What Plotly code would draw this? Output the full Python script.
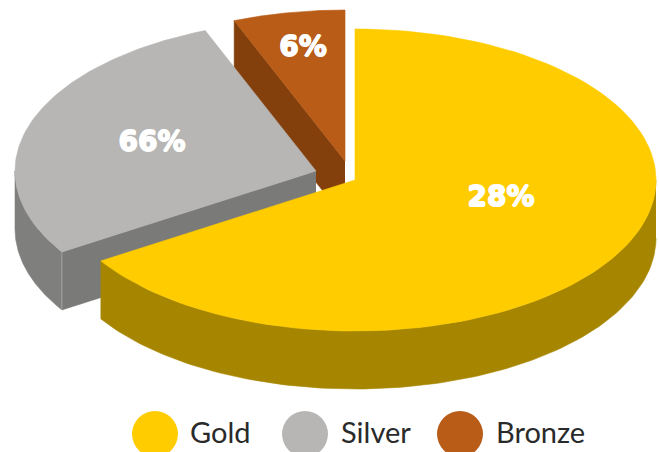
import numpy as np
import plotly.graph_objects as go

# Medal shares and the text printed on each wedge
medals = ["Gold", "Silver", "Bronze"]
shares = [66, 28, 6]
wedge_labels = ["28%", "66%", "6%"]

top_colors = ["#FFCC00", "#B7B6B4", "#B85C17"]
outer_colors = ["#A68600", "#7F7F7D", "#83400C"]
cut_colors = ["#A68600", "#7A7A78", "#83400C"]

# Projection of the tilted disc, in canvas pixels
RX, RY, DEPTH = 301, 151, 58
HUBS = [(355, 180), (316, 171), (345, 161)]
LABEL_SPOTS = [(501, 199), (152, 144), (303, 49)]
LEGEND_DOTS = [155, 305, 460]
LEGEND_TEXT = [190, 341, 496]
LEGEND_Y = 434


def rim(hub, a0, a1, drop=0):
    """Points on the wedge rim; angles run clockwise from twelve o'clock."""
    t = np.radians(np.linspace(a0, a1, 120))
    return hub[0] + RX * np.sin(t), hub[1] - RY * np.cos(t) + drop


def polygon(fig, xs, ys, color, line=None):
    fig.add_trace(go.Scatter(
        x=list(xs), y=list(ys), mode="lines", fill="toself", fillcolor=color,
        line=dict(color=line or color, width=0.6), hoverinfo="skip", showlegend=False,
    ))


def radial_face(fig, hub, angle, color):
    x, y = rim(hub, angle, angle)
    polygon(fig, [hub[0], x[0], x[0], hub[0]],
            [hub[1], y[0], y[0] + DEPTH, hub[1] + DEPTH], color)


def outer_face(fig, hub, a0, a1, color):
    x, y = rim(hub, a0, a1)
    xd, yd = rim(hub, a0, a1, DEPTH)
    polygon(fig, np.r_[x, xd[::-1]], np.r_[y, yd[::-1]], color)


def top_face(fig, hub, a0, a1, color):
    x, y = rim(hub, a0, a1)
    polygon(fig, np.r_[hub[0], x, hub[0]], np.r_[hub[1], y, hub[1]], color)


edges = np.cumsum([0] + shares) * 3.6
fig = go.Figure()

# Back to front: bronze, silver, then the gold wedge on top
for i in (2, 1, 0):
    a0, a1 = edges[i], edges[i + 1]
    hub = HUBS[i]
    if i == 2:
        radial_face(fig, hub, a0, cut_colors[i])
    if i == 1:
        outer_face(fig, hub, a0, 270, outer_colors[i])
        radial_face(fig, hub, a0, cut_colors[i])
        xc, yc = rim(hub, a0, a0)
        fig.add_trace(go.Scatter(
            x=[xc[0], xc[0]], y=[yc[0], yc[0] + DEPTH], mode="lines",
            line=dict(color="#A3A3A1", width=1), hoverinfo="skip", showlegend=False,
        ))
    if i == 0:
        outer_face(fig, hub, 90, a1, outer_colors[i])
    top_face(fig, hub, a0, a1, top_colors[i])

# The shadow thickens the strokes of the wedge percentages
fig.add_trace(go.Scatter(
    x=[p[0] for p in LABEL_SPOTS], y=[p[1] for p in LABEL_SPOTS],
    mode="text", text=wedge_labels,
    textfont=dict(
        family="DejaVu Sans", size=28, color="white", weight="bold",
        shadow="0.7px 0 0 white, -0.7px 0 0 white, 0 0.7px 0 white, 0 -0.7px 0 white",
    ),
    hoverinfo="skip", showlegend=False,
))

# Hand-placed key under the disc
fig.add_trace(go.Scatter(
    x=LEGEND_DOTS, y=[LEGEND_Y] * 3, mode="markers",
    marker=dict(size=46, color=top_colors, line=dict(width=0)),
    hoverinfo="skip", showlegend=False, cliponaxis=False,
))
fig.add_trace(go.Scatter(
    x=LEGEND_TEXT, y=[LEGEND_Y + 2] * 3, mode="text", text=medals,
    textposition="middle right",
    textfont=dict(family="Lato", size=29, color="#2A2A2A"),
    hoverinfo="skip", showlegend=False, cliponaxis=False,
))

fig.update_layout(
    width=659, height=452, margin=dict(l=0, r=0, t=0, b=0),
    paper_bgcolor="white", plot_bgcolor="white", showlegend=False,
    xaxis=dict(range=[0, 659], visible=False, fixedrange=True),
    yaxis=dict(range=[452, 0], visible=False, fixedrange=True),
)
fig.write_html("out.html", config=dict(displayModeBar=False))
